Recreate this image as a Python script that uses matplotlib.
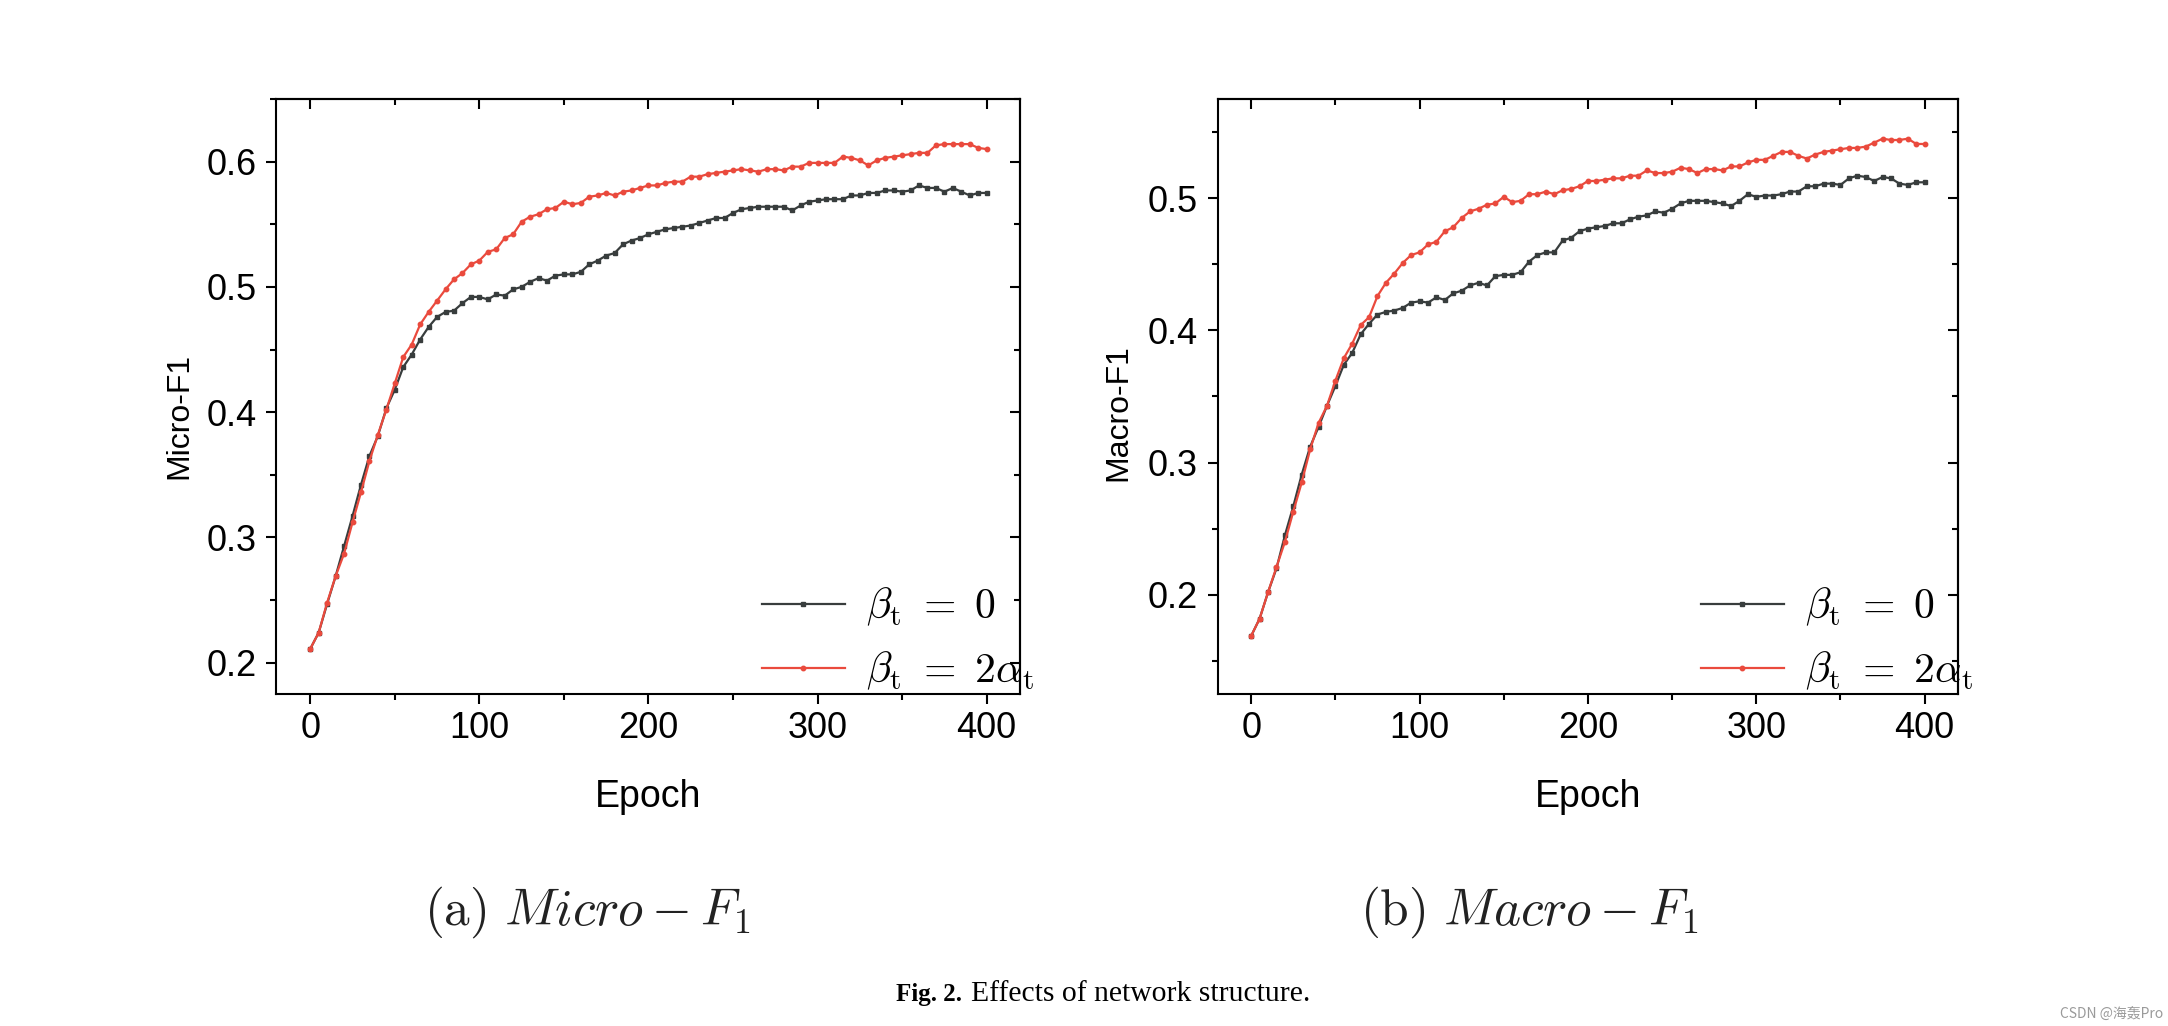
import numpy as np
import matplotlib
matplotlib.use('Agg')
import matplotlib.pyplot as plt
from matplotlib.ticker import MultipleLocator

plt.rcParams['mathtext.fontset'] = 'cm'

epochs = np.arange(0, 401, 5)

micro_beta0 = [0.211, 0.224, 0.247, 0.269, 0.293, 0.317, 0.342, 0.365, 0.381, 0.403,
               0.418, 0.436, 0.446, 0.458, 0.468, 0.476, 0.480, 0.481, 0.487, 0.492,
               0.492, 0.490, 0.494, 0.493, 0.498, 0.500, 0.504, 0.507, 0.505, 0.509,
               0.510, 0.510, 0.512, 0.518, 0.521, 0.525, 0.527, 0.534, 0.537, 0.539,
               0.542, 0.544, 0.546, 0.547, 0.548, 0.549, 0.551, 0.553, 0.555, 0.555,
               0.559, 0.562, 0.563, 0.564, 0.564, 0.564, 0.564, 0.561, 0.565, 0.568,
               0.569, 0.570, 0.570, 0.570, 0.573, 0.573, 0.575, 0.575, 0.577, 0.577,
               0.576, 0.577, 0.581, 0.579, 0.579, 0.576, 0.579, 0.576, 0.573, 0.575,
               0.575]
micro_beta2a = [0.211, 0.224, 0.248, 0.269, 0.287, 0.312, 0.336, 0.361, 0.382, 0.402,
                0.423, 0.444, 0.454, 0.470, 0.480, 0.489, 0.498, 0.506, 0.511, 0.518,
                0.521, 0.528, 0.530, 0.539, 0.542, 0.552, 0.556, 0.558, 0.562, 0.563,
                0.568, 0.566, 0.567, 0.572, 0.573, 0.575, 0.573, 0.576, 0.577, 0.579,
                0.581, 0.581, 0.583, 0.584, 0.584, 0.588, 0.588, 0.590, 0.591, 0.592,
                0.593, 0.594, 0.593, 0.592, 0.594, 0.594, 0.593, 0.596, 0.596, 0.599,
                0.599, 0.599, 0.599, 0.604, 0.603, 0.601, 0.597, 0.601, 0.603, 0.604,
                0.605, 0.606, 0.607, 0.607, 0.613, 0.614, 0.614, 0.614, 0.614, 0.611,
                0.610]
macro_beta0 = [0.169, 0.182, 0.202, 0.220, 0.245, 0.267, 0.291, 0.312, 0.327, 0.343,
               0.358, 0.374, 0.383, 0.397, 0.405, 0.412, 0.414, 0.415, 0.417, 0.421,
               0.422, 0.421, 0.425, 0.423, 0.428, 0.430, 0.434, 0.436, 0.434, 0.441,
               0.442, 0.442, 0.444, 0.452, 0.457, 0.459, 0.459, 0.468, 0.470, 0.475,
               0.477, 0.478, 0.479, 0.481, 0.481, 0.484, 0.486, 0.487, 0.490, 0.489,
               0.492, 0.496, 0.498, 0.498, 0.498, 0.497, 0.496, 0.494, 0.498, 0.503,
               0.501, 0.502, 0.502, 0.503, 0.505, 0.505, 0.509, 0.509, 0.511, 0.511,
               0.510, 0.515, 0.517, 0.516, 0.513, 0.516, 0.515, 0.511, 0.510, 0.512,
               0.512]
macro_beta2a = [0.169, 0.182, 0.202, 0.221, 0.240, 0.263, 0.285, 0.310, 0.330, 0.343,
                0.362, 0.379, 0.390, 0.404, 0.410, 0.426, 0.436, 0.443, 0.451, 0.457,
                0.459, 0.465, 0.467, 0.475, 0.478, 0.485, 0.490, 0.492, 0.495, 0.496,
                0.501, 0.497, 0.498, 0.503, 0.503, 0.505, 0.503, 0.506, 0.507, 0.509,
                0.513, 0.513, 0.514, 0.515, 0.515, 0.517, 0.517, 0.521, 0.519, 0.519,
                0.520, 0.523, 0.522, 0.519, 0.522, 0.522, 0.521, 0.524, 0.524, 0.527,
                0.529, 0.529, 0.532, 0.535, 0.535, 0.532, 0.530, 0.533, 0.535, 0.536,
                0.537, 0.538, 0.538, 0.539, 0.542, 0.545, 0.544, 0.544, 0.545, 0.541,
                0.541]

labels = [r'$\beta_{\rm t}\ =\ 0$', r'$\beta_{\rm t}\ =\ 2\alpha_{\rm t}$']
black = '#383d3d'
red = '#ea4a3d'
sans = 'Liberation Sans'


def panel(ax, b0, b2, ylabel, ylim, ylab_pos):
  ax.plot(epochs, b0, color=black, lw=1.6, marker='s', ms=3.2, label=labels[0])
  ax.plot(epochs, b2, color=red, lw=1.6, marker='o', ms=3.2, label=labels[1])
  ax.set_xlim(-20, 420)
  ax.set_ylim(*ylim)
  ax.xaxis.set_major_locator(MultipleLocator(100))
  ax.xaxis.set_minor_locator(MultipleLocator(50))
  ax.yaxis.set_major_locator(MultipleLocator(0.1))
  ax.yaxis.set_minor_locator(MultipleLocator(0.05))
  ax.tick_params(which='both', direction='out', width=1.5, labelsize=26)
  ax.tick_params(axis='x', pad=5)
  ax.tick_params(axis='y', pad=7)
  ax.tick_params(which='major', length=7)
  ax.tick_params(which='minor', length=4)
  for lab in ax.get_xticklabels() + ax.get_yticklabels():
    lab.set_family(sans)
  for s in ax.spines.values():
    s.set_linewidth(1.5)

  top = ax.secondary_xaxis('top')
  top.xaxis.set_major_locator(MultipleLocator(100))
  top.xaxis.set_minor_locator(MultipleLocator(50))
  right = ax.secondary_yaxis('right')
  right.yaxis.set_major_locator(MultipleLocator(0.1))
  right.yaxis.set_minor_locator(MultipleLocator(0.05))
  for sec in (top, right):
    sec.tick_params(which='both', direction='in', width=1.5, labeltop=False, labelright=False)
    sec.tick_params(which='major', length=7)
    sec.tick_params(which='minor', length=4)
    for s in sec.spines.values():
      s.set_linewidth(1.5)

  ax.set_xlabel('Epoch', family=sans, fontsize=27)
  ax.xaxis.set_label_coords(0.5, -0.143)
  ax.set_ylabel(ylabel, family=sans, fontsize=23)
  ax.yaxis.set_label_coords(*ylab_pos)

  ax.legend(loc='upper left', bbox_to_anchor=(0.652, 0.182), frameon=False,
            fontsize=30, handlelength=2.0, handletextpad=0.5,
            labelspacing=0.5, borderpad=0, borderaxespad=0)


fig = plt.figure(figsize=(21.68, 10.26), dpi=100)
ax1 = fig.add_axes([0.1275, 0.3236, 0.3432, 0.5799])
ax2 = fig.add_axes([0.5616, 0.3236, 0.3417, 0.5799])

panel(ax1, micro_beta0, micro_beta2a, 'Micro-F1', (0.175, 0.65), (-0.11, 0.467))
panel(ax2, macro_beta0, macro_beta2a, 'Macro-F1', (0.125, 0.575), (-0.114, 0.473))

fig.text(0.271, 0.111, r'$\mathrm{(a)}\ Micro-F_1$', ha='center', va='center',
         fontsize=37, color='#222222')
fig.text(0.7055, 0.111, r'$\mathrm{(b)}\ Macro-F_1$', ha='center', va='center',
         fontsize=37, color='#222222')

fig.text(0.4133, 0.0244, 'Fig. 2.', ha='left', va='baseline', fontsize=18,
         family='Liberation Serif', weight='bold')
fig.text(0.4478, 0.0244, 'Effects of network structure.', ha='left', va='baseline',
         fontsize=21.3, family='Liberation Serif')

fig.text(0.998, 0.012, 'CSDN @海轰Pro', ha='right', va='center', fontsize=10,
         color='#9a9a9a', family=['Noto Sans CJK SC', 'DejaVu Sans'])

fig.savefig('out.png', dpi=100)
